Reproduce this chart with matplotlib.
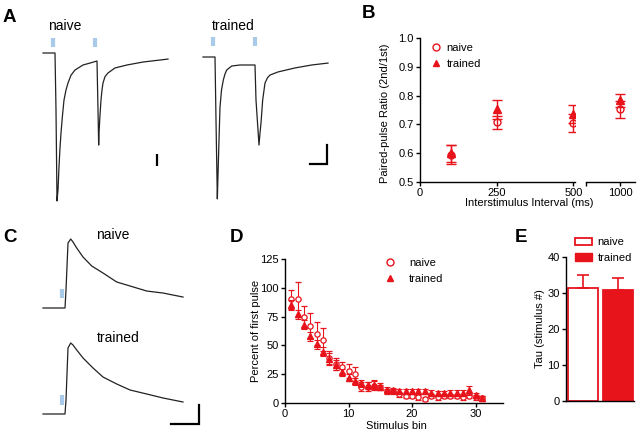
import matplotlib
matplotlib.use("Agg")
import matplotlib.pyplot as plt
from matplotlib.patches import Patch
from matplotlib.lines import Line2D

plt.rcParams['font.family'] = ['Liberation Sans', 'DejaVu Sans']
plt.rcParams['font.size'] = 8

RED = '#e8141c'
TRACE = '#222222'
STIM = '#a8cbe9'

# ---------------- data ----------------
# A: paired-pulse traces (time in ms, amplitude normalised to naive first peak)
a_naive_t = [-72, 0, 6, 12, 18, 24, 30, 36, 45, 54, 66, 78, 96, 120, 168, 210, 252, 258, 262, 264, 270, 276,
             282, 288, 300, 318, 360, 432, 528, 678]
a_naive_v = [0, 0, -0.385, -1.0, -0.926, -0.770, -0.640, -0.541, -0.420, -0.318, -0.250, -0.203, -0.150,
             -0.115, -0.081, -0.068, -0.054, -0.385, -0.622, -0.541, -0.420, -0.318, -0.250, -0.203, -0.160,
             -0.135, -0.101, -0.081, -0.061, -0.041]
a_trained_t = [-72, 0, 6, 14, 18, 24, 30, 39, 50, 60, 70, 100, 150, 240, 246, 264, 270, 276, 286, 300, 315,
               330, 378, 480, 580, 678]
a_trained_v = [0, 0, -0.426, -0.959, -0.797, -0.561, -0.338, -0.223, -0.155, -0.115, -0.088, -0.061, -0.054,
               -0.054, -0.291, -0.595, -0.514, -0.446, -0.291, -0.176, -0.140, -0.122, -0.101, -0.074,
               -0.054, -0.041]
a_stim_t = [-12, 240]

# C: single-stimulus traces (time in ms, normalised amplitude)
c_naive_t = [-220, 0, 10, 30, 57, 80, 117, 180, 267, 380, 517, 650, 817, 980, 1180]
c_naive_v = [0, 0, 0.261, 0.942, 1.0, 0.957, 0.870, 0.739, 0.609, 0.507, 0.377, 0.319, 0.246, 0.217, 0.159]
c_trained_t = [-220, 0, 10, 30, 57, 80, 117, 180, 280, 380, 517, 650, 817, 980, 1180]
c_trained_v = [0, 0, 0.203, 0.957, 1.029, 1.0, 0.928, 0.812, 0.667, 0.536, 0.435, 0.348, 0.290, 0.232, 0.174]
c_stim_t = -30

# B: paired-pulse ratio
isi = [100, 250, 500, 1000]
ppr_naive = [0.595, 0.707, 0.704, 0.752]
ppr_naive_err = [0.032, 0.023, 0.032, 0.030]
ppr_trained = [0.600, 0.752, 0.737, 0.784]
ppr_trained_err = [0.030, 0.033, 0.032, 0.022]

# D: depression during train
bins = list(range(1, 32))
d_naive = [90, 90, 75, 67, 60, 55, 39, 34, 31, 28, 25, 14, 14, 15, 14, 10, 10, 7.5, 6, 6, 5, 3.5,
           6, 5, 6, 6, 6, 5, 6, 5, 4]
d_naive_err = [8, 15, 9, 11, 10, 10, 6, 5, 5, 6, 6, 4, 4, 4, 3, 2, 2, 2, 2, 2, 2, 2,
               2, 2, 2, 2, 2, 2, 2, 2, 2]
d_trained = [85, 77, 68, 58, 51, 44.5, 38.5, 33, 26.5, 22, 19, 17, 15.5, 16, 13.5, 11.5, 11, 10.5, 10, 10,
             10, 10, 9, 8.5, 8.5, 9, 9, 9, 11, 7, 4]
d_trained_err = [4, 4, 4, 4, 4, 4, 5, 4, 3, 3, 3, 3, 3, 4, 2, 2, 2, 2, 2, 2, 2, 2,
                 2, 2, 2, 2, 2, 2, 4, 2, 2]

# E: tau
groups = ['naive', 'trained']
tau = [31.4, 30.9]
tau_err = [3.6, 3.2]

# ---------------- layout helpers ----------------
W, H = 640, 434
fig = plt.figure(figsize=(W / 100, H / 100), dpi=100)


def box(x0, y0, x1, y1):
    return [x0 / W, 1 - y1 / H, (x1 - x0) / W, (y1 - y0) / H]


def ftext(x, y, s, **kw):
    fig.text(x / W, 1 - y / H, s, **kw)


def trace_axes(x0, y0, x1, y1, ox, oy, px_per_t, px_per_a):
    ax = fig.add_axes(box(x0, y0, x1, y1))
    ax.axis('off')
    ax.set_xlim((x0 - ox) / px_per_t, (x1 - ox) / px_per_t)
    ax.set_ylim((oy - y1) / px_per_a, (oy - y0) / px_per_a)
    return ax


def style_axes(ax):
    for s in ['top', 'right']:
        ax.spines[s].set_visible(False)
    for s in ['left', 'bottom']:
        ax.spines[s].set_linewidth(1.0)
    ax.tick_params(direction='out', length=3, width=1, labelsize=8, pad=1.5)


# ---------------- panel A ----------------
axA1 = trace_axes(40, 30, 172, 212, 55, 53, 1 / 6, 148)
axA1.plot(a_naive_t, a_naive_v, color=TRACE, lw=0.9)
for t in a_stim_t:
    axA1.plot([t, t], [0.04, 0.10], color=STIM, lw=3.0, solid_capstyle='butt')
axA1.plot([612, 612], [-0.682, -0.764], color='k', lw=1.6, solid_capstyle='butt')

axA2 = trace_axes(200, 30, 332, 212, 215, 57, 1 / 6, 148)
axA2.plot(a_trained_t, a_trained_v, color=TRACE, lw=0.9)
for t in a_stim_t:
    axA2.plot([t, t], [0.074, 0.134], color=STIM, lw=3.0, solid_capstyle='butt')
axA2.plot([570, 672, 672], [-0.723, -0.723, -0.595], color='k', lw=1.6, solid_joinstyle='miter')

ftext(64.5, 26, 'naive', fontsize=10, ha='center', va='center')
ftext(233, 26, 'trained', fontsize=10, ha='center', va='center')

# ---------------- panel C ----------------
axC1 = trace_axes(40, 226, 202, 318, 65, 308, 0.1, 69)
axC1.plot(c_naive_t, c_naive_v, color=TRACE, lw=0.9)
axC1.plot([c_stim_t, c_stim_t], [0.145, 0.275], color=STIM, lw=3.0, solid_capstyle='butt')

axC2 = trace_axes(40, 330, 202, 430, 65, 414, 0.1, 69)
axC2.plot(c_trained_t, c_trained_v, color=TRACE, lw=0.9)
axC2.plot([c_stim_t, c_stim_t], [0.13, 0.275], color=STIM, lw=3.0, solid_capstyle='butt')
axC2.plot([1060, 1340, 1340], [-0.145, -0.145, 0.13], color='k', lw=1.6, solid_joinstyle='miter')

ftext(113, 235, 'naive', fontsize=10, ha='center', va='center')
ftext(118, 338, 'trained', fontsize=10, ha='center', va='center')

# ---------------- panel B ----------------
axB1 = fig.add_axes(box(420, 38, 575, 182))
axB2 = fig.add_axes(box(586, 38, 635, 182), sharey=axB1)
for ax in (axB1, axB2):
    style_axes(ax)
    ax.errorbar(isi, ppr_naive, yerr=ppr_naive_err, fmt='o', ms=5, mfc='none', mec=RED, mew=1.0,
                ecolor=RED, elinewidth=1.0, capsize=3.5, capthick=1.0, zorder=3)
    ax.errorbar(isi, ppr_trained, yerr=ppr_trained_err, fmt='^', ms=5.3, mfc=RED, mec=RED,
                ecolor=RED, elinewidth=1.0, capsize=3.5, capthick=1.0, zorder=4)
axB1.set_xlim(0, 505)
axB1.set_ylim(0.5, 1.0)
axB1.set_xticks([0, 250, 500])
axB1.set_yticks([0.5, 0.6, 0.7, 0.8, 0.9, 1.0])
axB1.set_yticklabels(['0.5', '0.6', '0.7', '0.8', '0.9', '1.0'])
axB2.set_xlim(889, 1049)
axB2.spines['left'].set_visible(False)
axB2.tick_params(axis='y', left=False, labelleft=False)
axB2.set_xticks([889, 1000])
axB2.set_xticklabels(['', '1000'])

axB1.legend(handles=[Line2D([], [], marker='o', ls='none', ms=5, mfc='none', mec=RED, mew=1.0),
                     Line2D([], [], marker='^', ls='none', ms=5, mfc=RED, mec=RED)],
            labels=['naive', 'trained'], loc='upper left', bbox_to_anchor=(0.02, 1.02),
            frameon=False, fontsize=8, handlelength=1.0, handletextpad=0.4, labelspacing=0.55,
            borderpad=0.2)
ftext(385, 113, 'Paired-pulse Ratio (2nd/1st)', rotation=90, ha='center', va='center', fontsize=8)
ftext(529, 203, 'Interstimulus Interval (ms)', ha='center', va='center', fontsize=8)

# ---------------- panel D ----------------
axD = fig.add_axes(box(285, 259, 503, 403))
style_axes(axD)
axD.errorbar(bins, d_naive, yerr=d_naive_err, fmt='o', ms=3.8, mfc='white', mec=RED, mew=0.9,
             ecolor=RED, elinewidth=0.8, capsize=2.2, capthick=0.8, zorder=3)
axD.errorbar(bins, d_trained, yerr=d_trained_err, fmt='^', ms=3.8, mfc=RED, mec=RED,
             ecolor=RED, elinewidth=0.8, capsize=2.2, capthick=0.8, zorder=4)
axD.set_xlim(0, 34.3)
axD.set_ylim(0, 125)
axD.set_xticks([0, 10, 20, 30])
axD.set_yticks([0, 25, 50, 75, 100, 125])
axD.legend(handles=[Line2D([], [], marker='o', ls='none', ms=5, mfc='none', mec=RED, mew=1.0),
                    Line2D([], [], marker='^', ls='none', ms=5, mfc=RED, mec=RED)],
           labels=['naive', 'trained'], loc='upper left', bbox_to_anchor=(0.42, 1.06),
           frameon=False, fontsize=8, handlelength=1.0, handletextpad=1.2, labelspacing=0.55,
           borderpad=0.2)
ftext(256, 331, 'Percent of first pulse', rotation=90, ha='center', va='center', fontsize=8)
ftext(396, 426, 'Stimulus bin', ha='center', va='center', fontsize=8)

# ---------------- panel E ----------------
axE = fig.add_axes(box(566, 257, 634, 401))
style_axes(axE)
xpos = [0, 1]
axE.bar(xpos, tau, width=0.857, color=['white', RED], edgecolor=RED, linewidth=1.3, zorder=2)
axE.errorbar(xpos, tau, yerr=[[0, 0], tau_err], fmt='none', ecolor=RED, elinewidth=1.2,
             capsize=4.5, capthick=1.2, zorder=3)
axE.set_xlim(-0.486, 1.457)
axE.set_ylim(0, 40)
axE.set_yticks([0, 10, 20, 30, 40])
axE.set_xticks([])
axE.legend(handles=[Patch(facecolor='white', edgecolor=RED, linewidth=1.3),
                    Patch(facecolor=RED, edgecolor=RED)],
           labels=groups, loc='upper left', bbox_to_anchor=(0.02, 1.19),
           frameon=False, fontsize=8, handlelength=1.5, handleheight=0.65, handletextpad=0.5,
           labelspacing=0.5, borderpad=0.2)
ftext(540, 329, 'Tau (stimulus #)', rotation=90, ha='center', va='center', fontsize=8)

# ---------------- panel letters ----------------
for lx, ly, s in [(3, 18, 'A'), (362, 13, 'B'), (3, 238, 'C'), (230, 238, 'D'), (515, 238, 'E')]:
    ftext(lx, ly, s, fontsize=13.5, fontweight='bold', ha='left', va='center')

fig.savefig('out.png', dpi=100)
